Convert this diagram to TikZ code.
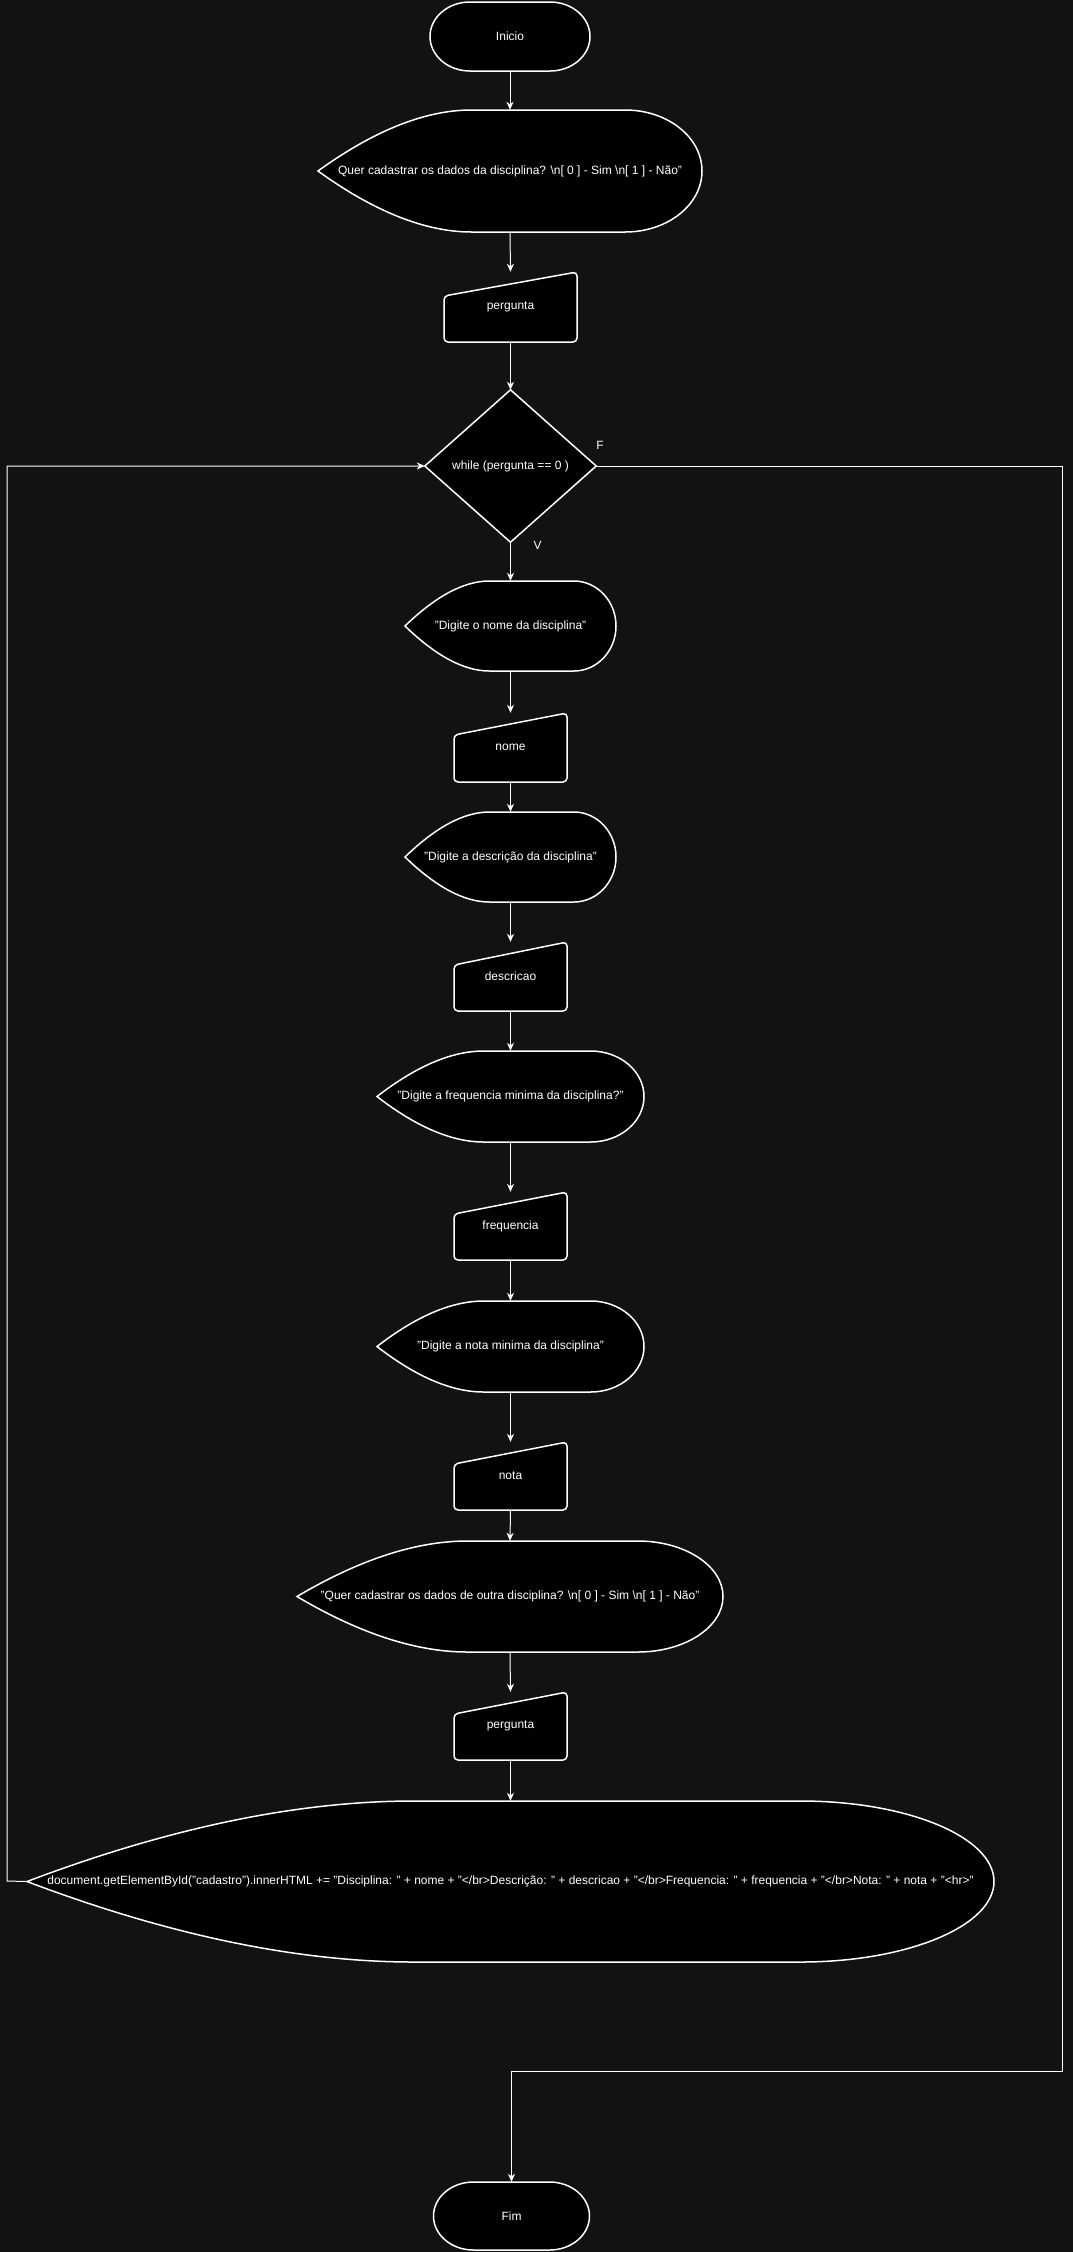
\documentclass[tikz,border=0pt]{standalone}
\usepackage{fontspec}
\setmainfont{Liberation Sans}
\usetikzlibrary{arrows.meta}
\pgfdeclarelayer{back}
\pgfdeclarelayer{bg}
\pgfsetlayers{back,bg,main}
\definecolor{bgc}{HTML}{121212}
\tikzset{
 shp/.style={draw=white, fill=black, line width=1.5pt},
 txt/.style={draw=none, inner sep=0pt, text=white, font=\fontsize{12}{14}\selectfont},
 conn/.style={draw=white, line width=1pt, -{Stealth[length=8pt,width=7pt,inset=2.5pt]}},
 lbl/.style={text=white, font=\fontsize{12}{14}\selectfont, inner sep=0pt},
}
% display shape: name, left, right, top, bottom, text
\newcommand{\dispnode}[6]{%
 \pgfmathsetmacro\myW{#3-#2}%
 \pgfmathsetmacro\myH{#5-#4}%
 \pgfmathsetmacro\myCX{(#2+#3)/2}%
 \pgfmathsetmacro\myCY{(#4+#5)/2}%
 \pgfmathsetmacro\myFS{#2+0.4*\myW}%
 \pgfmathsetmacro\myRX{0.2*\myW}%
 \pgfmathsetmacro\myFE{#3-\myRX}%
 \pgfmathsetmacro\myRY{\myH/2}%
 \pgfmathsetmacro\myAX{#2+0.1467*\myW}%
 \pgfmathsetmacro\myAYt{\myCY+2/3*(#4-\myCY)}%
 \pgfmathsetmacro\myAYb{\myCY+2/3*(#5-\myCY)}%
 \pgfmathsetmacro\myBX{#2+0.28*\myW}%
 \node[txt, minimum width=\myW pt, minimum height=\myH pt] (#1) at (\myCX,\myCY) {#6};
 \begin{pgfonlayer}{bg}
 \path[shp] (#2,\myCY) .. controls (\myAX,\myAYt) and (\myBX,#4) .. (\myFS,#4) -- (\myFE,#4)
   arc[start angle=90,end angle=-90,x radius=\myRX pt,y radius=\myRY pt]
   -- (\myFS,#5) .. controls (\myBX,#5) and (\myAX,\myAYb) .. cycle;
 \end{pgfonlayer}
}
% manual input: name, left, right, topR, topL, bottom, text
\newcommand{\manualnode}[7]{%
 \pgfmathsetmacro\myW{#3-#2}%
 \pgfmathsetmacro\myH{#6-#4}%
 \pgfmathsetmacro\myCX{(#2+#3)/2}%
 \pgfmathsetmacro\myCY{(#4+#6)/2}%
 \node[txt, minimum width=\myW pt, minimum height=\myH pt] (#1) at (\myCX,\myCY) {#7};
 \begin{pgfonlayer}{bg}
 \path[shp, rounded corners=4pt] (#2,#6) -- (#2,#5) -- (#3,#4) -- (#3,#6) -- cycle;
 \end{pgfonlayer}
}
% terminal: name, cx, cy, w, h, text
\newcommand{\termnode}[6]{%
 \pgfmathsetmacro\myRX{40}%
 \pgfmathsetmacro\myRY{#5/2}%
 \pgfmathsetmacro\myXL{#2-#4/2+\myRX}%
 \pgfmathsetmacro\myXR{#2+#4/2-\myRX}%
 \pgfmathsetmacro\myT{#3-#5/2}%
 \pgfmathsetmacro\myB{#3+#5/2}%
 \node[txt, minimum width=#4pt, minimum height=#5pt] (#1) at (#2,#3) {#6};
 \begin{pgfonlayer}{bg}
 \path[shp] (\myXL,\myT) -- (\myXR,\myT)
   arc[start angle=90,end angle=-90,x radius=\myRX pt,y radius=\myRY pt]
   -- (\myXL,\myB)
   arc[start angle=270,end angle=90,x radius=\myRX pt,y radius=\myRY pt] -- cycle;
 \end{pgfonlayer}
}
\begin{document}
\begin{tikzpicture}[x=1pt,y=-1pt]
\begin{pgfonlayer}{back}
\fill[bgc] (0,0) rectangle (1073,2252);
\end{pgfonlayer}
\useasboundingbox (0,0) rectangle (1073,2252);

\termnode{ini}{510}{36.5}{160}{69}{Inicio}
\dispnode{q1}{318}{702}{110}{232}{Quer cadastrar os dados da disciplina? \textbackslash n[ 0 ] - Sim \textbackslash n[ 1 ] - Não"}
\manualnode{p1}{444}{577}{272}{296}{342}{pergunta}

% decision
\node[txt, minimum width=171pt, minimum height=152pt] (dec) at (510.5,466) {while (pergunta == 0 )};
\begin{pgfonlayer}{bg}
\path[shp] (dec.west) -- (dec.north) -- (dec.east) -- (dec.south) -- cycle;
\end{pgfonlayer}
\node[lbl] (fl) at (600,445) {F};
\node[lbl] (vl) at (537.5,545.5) {V};

\dispnode{nq}{405}{616}{581}{671}{"Digite o nome da disciplina"}
\manualnode{nome}{454}{567}{713}{735}{782}{nome}
\dispnode{dq}{405}{616}{812}{902}{"Digite a descrição da disciplina"}
\manualnode{desc}{454}{567}{942}{965}{1011}{descricao}
\dispnode{fq}{377}{644}{1051}{1142}{"Digite a frequencia minima da disciplina?"}
\manualnode{freq}{454}{567}{1192}{1214}{1260}{frequencia}
\dispnode{tq}{377}{644}{1301}{1392}{"Digite a nota minima da disciplina"}
\manualnode{nota}{454}{567}{1442}{1464}{1510}{nota}
\dispnode{oq}{297}{723}{1541}{1652}{"Quer cadastrar os dados de outra disciplina? \textbackslash n[ 0 ] - Sim \textbackslash n[ 1 ] - Não"}
\manualnode{p2}{454}{567}{1692}{1714}{1760}{pergunta}
\dispnode{big}{27}{994}{1801}{1962}{document.getElementById("cadastro").innerHTML += "Disciplina: " + nome + "</br>Descrição: " + descricao + "</br>Frequencia: " + frequencia + "</br>Nota: " + nota + "<hr>"}
\termnode{fim}{511.5}{2216}{156}{68}{Fim}

\draw[conn] (ini.south) -- (q1.north);
\draw[conn] (q1.south) -- (p1.north);
\draw[conn] (p1.south) -- (dec.north);
\draw[conn] (dec.south) -- (nq.north);
\draw[conn] (nq.south) -- (nome.north);
\draw[conn] (nome.south) -- (dq.north);
\draw[conn] (dq.south) -- (desc.north);
\draw[conn] (desc.south) -- (fq.north);
\draw[conn] (fq.south) -- (freq.north);
\draw[conn] (freq.south) -- (tq.north);
\draw[conn] (tq.south) -- (nota.north);
\draw[conn] (nota.south) -- (oq.north);
\draw[conn] (oq.south) -- (p2.north);
\draw[conn] (p2.south) -- (big.north);

\coordinate (lp) at (7,1881);
\draw[conn] (big.west) -- (lp) |- (dec.west);
\coordinate (fr) at (1062,2071);
\draw[conn] (dec.east) -| (fr) -| (fim.north);
\end{tikzpicture}
\end{document}
